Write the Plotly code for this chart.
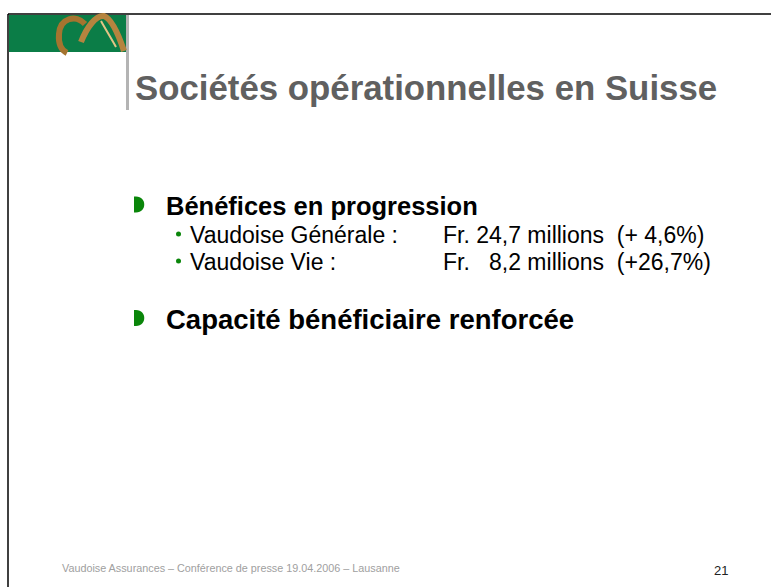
import plotly.graph_objects as go

# ---- slide content (data) ----
title_text = "Sociétés opérationnelles en Suisse"
headings = ["Bénéfices en progression", "Capacité bénéficiaire renforcée"]
heading_sizes = [25.5, 27.5]
companies = ["Vaudoise Générale :", "Vaudoise Vie :"]
profits_mio = [24.7, 8.2]          # Fr. millions
growth_pct = [4.6, 26.7]           # % change
footer_text = "Vaudoise Assurances – Conférence de presse 19.04.2006 – Lausanne"
page_number = "21"

W, H = 771, 587
NB = "\u00a0"
FONT = "Liberation Sans, Arial, sans-serif"
GREEN = "#0a860a"


def fr_num(v, width, pad_per_digit):
    s = f"{v:.1f}".replace(".", ",")
    missing = width - len(s)
    return NB * (pad_per_digit * missing) + s


fig = go.Figure()
fig.add_trace(go.Scatter(x=[0, W], y=[0, H], mode="markers",
                         marker=dict(opacity=0), hoverinfo="skip", showlegend=False))

shapes = []
# slide frame lines (top + left)
shapes.append(dict(type="line", x0=8, x1=W, y0=14, y1=14, line=dict(color="black", width=1.5)))
shapes.append(dict(type="line", x0=8, x1=8, y0=14, y1=H, line=dict(color="black", width=1.5)))
# green banner
shapes.append(dict(type="rect", x0=9, x1=126, y0=15, y1=52, fillcolor="#0b7d47", line=dict(width=0)))
# gray vertical bar
shapes.append(dict(type="rect", x0=126, x1=129, y0=15, y1=110, fillcolor="#b4b4b4", line=dict(width=0)))
# logo swirl (approximation)
shapes.append(dict(type="path", path="M 85,24 C 76,14 60,18 59,34 C 58,46 63,51 67,53",
                   line=dict(color="#a5742f", width=6)))
shapes.append(dict(type="path", path="M 81,42 C 87,27 96,15 104,16 C 112,19 119,36 124,51",
                   line=dict(color="#b5843f", width=6)))
shapes.append(dict(type="path", path="M 101,21 C 106,30 111,38 116,47",
                   line=dict(color="#e3c486", width=2)))

# heading bullets (D shapes)
head_y = [204.5, 318]
for yc in head_y:
    y0, y1 = yc - 8, yc + 8
    shapes.append(dict(type="path",
                       path=f"M 134,{y0} L 136,{y0} C 147,{y0} 147,{y1} 136,{y1} L 134,{y1} Z",
                       fillcolor=GREEN, line=dict(width=0)))

sub_y = [234, 261]
for yc in sub_y:
    shapes.append(dict(type="circle", x0=176, x1=181, y0=yc - 2.5, y1=yc + 2.5,
                       fillcolor=GREEN, line=dict(width=0)))

annotations = []
annotations.append(dict(x=133, y=87, text=title_text, xanchor="left", yanchor="middle",
                        showarrow=False, font=dict(family=FONT, size=34.8, color="#606060",
                                                    weight="bold")))
for txt, yc, fs in zip(headings, head_y, heading_sizes):
    annotations.append(dict(x=164, y=yc + 1, text=txt, xanchor="left", yanchor="middle",
                            showarrow=False, font=dict(family=FONT, size=fs, color="black",
                                                        weight="bold")))
for comp, val, g, yc in zip(companies, profits_mio, growth_pct, sub_y):
    annotations.append(dict(x=188, y=yc + 1, text=comp, xanchor="left", yanchor="middle",
                            showarrow=False, font=dict(family=FONT, size=23, color="black")))
    g_txt = "(+" + fr_num(g, 4, 1) + "%)"
    line = "Fr." + NB + fr_num(val, 4, 2) + NB + "millions" + NB + NB + g_txt
    annotations.append(dict(x=441, y=yc + 1, text=line, xanchor="left", yanchor="middle",
                            showarrow=False, font=dict(family=FONT, size=23, color="black")))

annotations.append(dict(x=60, y=568, text=footer_text, xanchor="left", yanchor="middle",
                        showarrow=False, font=dict(family=FONT, size=10.8, color="#a0a0a0")))
annotations.append(dict(x=721, y=570, text=page_number, xanchor="center", yanchor="middle",
                        showarrow=False, font=dict(family=FONT, size=13, color="#222222")))

fig.update_layout(
    width=W, height=H,
    margin=dict(l=0, r=0, t=0, b=0),
    paper_bgcolor="white", plot_bgcolor="white",
    xaxis=dict(range=[0, W], visible=False, fixedrange=True),
    yaxis=dict(range=[H, 0], visible=False, fixedrange=True),
    shapes=shapes, annotations=annotations,
    showlegend=False,
)

fig.write_html("out.html", config={"displayModeBar": False},
               post_script="document.body.style.margin='0';")
